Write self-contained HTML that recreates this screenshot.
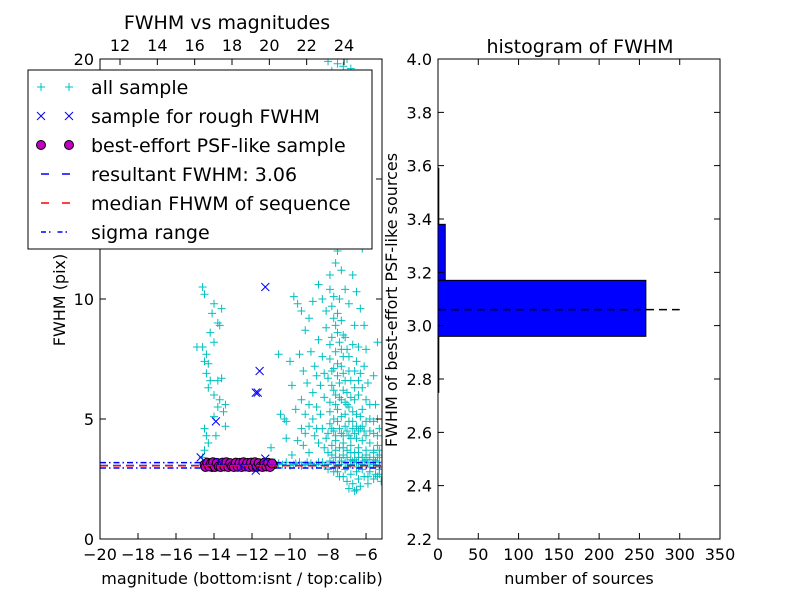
<!DOCTYPE html>
<html><head><meta charset="utf-8"><style>
body{margin:0;background:#fff;width:800px;height:600px;overflow:hidden}
svg{font-family:"DejaVu Sans","Liberation Sans",sans-serif}
</style></head><body>
<svg id="c" width="800" height="600" xmlns="http://www.w3.org/2000/svg">
<rect width="800" height="600" fill="#fff"/>
<g id="left"></g>
<g id="right"></g>
</svg>
<script>
const allSample = [[-14.6,10.5],[-14.5,10.2],[-14.0,9.8],[-13.6,9.6],[-14.1,9.4],[-13.8,9.0],[-13.7,8.9],[-14.2,8.6],[-14.0,8.2],[-14.6,8.0],[-14.9,8.0],[-14.4,7.7],[-14.5,7.4],[-14.3,7.3],[-14.4,6.9],[-14.2,6.6],[-14.3,6.3],[-13.8,6.6],[-13.6,6.7],[-14.0,6.0],[-13.7,5.8],[-13.8,5.5],[-13.5,5.3],[-13.4,5.6],[-14.0,5.1],[-13.4,4.7],[-14.5,4.6],[-14.4,4.3],[-14.3,4.0],[-14.5,3.7],[-13.9,4.3],[-14.6,3.4],
[-11.0,3.8],[-10.6,7.7],[-9.8,10.1],[-10.2,4.2],[-9.9,3.5],[-10.5,5.2],[-10.3,5.0],[-10.8,3.2],[-10.0,7.4],[-10.2,4.9],
[-9.6,9.8],[-9.4,9.5],[-9.2,8.7],[-9.0,9.2],[-8.8,9.9],[-8.5,10.6],[-8.3,10.0],[-8.1,9.5],[-7.9,11.0],[-7.6,11.5],[-7.5,12.0],[-7.3,11.2],[-7.1,10.4],[-6.9,9.8],[-6.7,11.0],[-6.5,10.3],[-6.3,9.6],[-6.1,8.9],
[-9.5,7.7],[-9.3,7.0],[-9.1,6.5],[-8.9,7.8],[-8.7,7.2],[-8.5,8.3],[-8.3,7.6],[-8.1,8.8],[-7.9,8.1],[-7.7,9.2],[-7.5,8.6],[-7.3,7.9],[-7.1,8.4],[-6.9,7.6],[-6.7,8.1],[-6.5,7.4],[-6.3,6.9],[-6.1,7.2],[-5.9,6.5],[-5.6,6.8],
[-9.4,5.8],[-9.2,5.2],[-9.0,4.7],[-8.8,6.1],[-8.6,5.5],[-8.4,6.4],[-8.2,5.9],[-8.0,6.7],[-7.9,5.3],[-7.8,7.0],[-7.7,6.2],[-7.6,5.6],[-7.5,7.3],[-7.4,6.5],[-7.3,5.8],[-7.2,6.9],[-7.1,5.2],[-7.0,6.1],[-6.9,5.5],[-6.8,6.6],[-6.7,4.9],[-6.6,5.8],[-6.5,5.2],[-6.4,6.0],[-6.3,4.6],[-6.2,5.4],[-6.0,4.9],[-5.8,5.6],[-5.6,4.4],[-5.4,5.0],
[-9.6,4.1],[-9.3,3.9],[-9.0,3.6],[-8.7,4.3],[-8.5,4.0],[-8.3,4.6],[-8.1,4.2],[-7.9,4.8],[-7.8,3.9],[-7.7,4.5],[-7.6,4.1],[-7.5,4.9],[-7.4,3.8],[-7.3,4.4],[-7.2,4.0],[-7.1,4.7],[-7.0,3.7],[-6.9,4.3],[-6.8,3.9],[-6.7,4.6],[-6.6,3.6],[-6.5,4.2],[-6.4,3.8],[-6.2,4.1],[-6.0,3.7],[-5.8,4.0],[-5.6,3.6],[-5.4,3.9],[-5.3,3.5],
[-9.8,3.1],[-9.5,3.2],[-9.2,3.1],[-8.9,3.15],[-8.6,3.1],[-8.3,3.2],[-8.0,3.1],[-7.7,3.2],[-7.4,3.1],[-7.1,3.2],[-6.8,3.1],[-6.5,3.2],[-6.2,3.1],[-5.9,3.2],[-5.6,3.1],[-5.3,3.2],
[-7.6,3.4],[-7.2,3.5],[-6.8,3.3],[-6.4,3.4],[-6.0,3.3],[-5.6,3.3],[-5.3,2.9],[-5.5,2.7],[-5.8,2.8],[-6.1,2.6],[-6.4,2.5],[-6.7,2.3],[-6.9,2.1],[-7.2,2.6],[-7.5,2.8],[-6.6,2.0],[-5.4,2.6],[-5.2,2.4],
[-8.4,12.4],[-7.8,12.9],[-7.2,12.6],[-6.2,12.1],[-7.8,19.5],[-7.5,19.8],[-7.2,19.7],[-6.8,19.6],[-8.0,19.9],[-7.0,20.0],[-8.3,13.0],[-5.4,8.2],
[-7.9,10.4],[-7.8,9.7],[-7.7,10.1],[-7.6,8.9],[-7.5,9.4],[-7.4,10.0],[-7.3,9.1],[-7.2,8.5],[-7.8,8.4],[-7.6,7.8],[-7.4,8.2],[-7.2,7.6],[-7.0,7.9],[-7.9,7.5],[-7.7,7.1],[-7.5,6.8],[-7.3,7.2],[-7.1,6.6],[-6.9,7.0],[-7.8,6.4],[-7.6,6.0],[-7.4,5.9],[-7.2,6.2],[-7.0,5.6],[-6.8,5.9],[-6.6,6.3],[-7.9,5.7],[-7.7,5.0],[-7.5,5.4],[-7.3,5.1],[-7.1,5.7],[-6.9,4.9],[-6.7,5.3],[-6.5,4.7],[-6.3,5.1],[-6.1,4.5],[-8.0,4.4],[-7.8,4.6],[-7.6,4.3],[-7.4,4.6],[-7.2,4.3],[-7.0,4.5],[-6.8,4.2],[-6.6,4.4],[-6.4,4.5],[-6.2,4.7],[-6.0,4.3],[-5.8,4.5],[-5.6,4.9],[-5.4,4.3],
[-8.2,3.8],[-8.0,3.6],[-7.8,3.5],[-7.6,3.7],[-7.4,3.4],[-7.2,3.8],[-7.0,3.4],[-6.8,3.6],[-6.6,3.3],[-6.4,3.6],[-6.2,3.4],[-6.0,3.5],[-5.8,3.4],[-5.6,3.7],[-5.4,3.4],[-5.3,3.7],
[-10.6,3.15],[-10.4,3.1],[-10.2,3.2],[-10.0,3.05],[-9.7,3.15],[-9.4,3.05],[-9.1,3.2],[-8.8,3.05],[-8.5,3.2],[-8.2,3.05],[-7.9,3.25],[-7.6,3.0],[-7.3,3.25],[-7.0,3.0],[-6.7,3.25],[-6.4,3.0],[-6.1,3.25],[-5.8,3.0],[-5.5,3.25],[-5.3,3.0],
[-8.0,2.9],[-7.7,2.8],[-7.4,2.6],[-7.1,2.9],[-6.8,2.7],[-6.5,2.8],[-6.2,2.9],[-5.9,2.6],[-5.6,2.5],[-5.3,2.7],[-6.3,2.2],[-7.0,2.4],[-5.9,2.3],[-6.5,2.05],
[-8.6,6.8],[-8.4,5.2],[-8.2,6.9],[-8.6,4.6],[-8.8,5.0],[-9.0,5.6],[-9.2,4.4],[-9.4,4.6],[-9.7,5.4],[-9.9,6.4],[-6.6,7.0],[-6.4,6.6],[-6.2,6.3],[-6.0,5.8],[-5.8,5.0],[-5.5,5.6],[-5.3,4.6],[-6.6,8.9],[-6.4,8.0],[-6.0,7.9]];
const roughSample = [[-11.3,10.5],[-11.6,7.0],[-11.7,6.1],[-11.8,6.1],[-13.9,4.9],[-14.7,3.4],[-11.3,3.35],[-13.7,3.2],[-11.8,2.85],[-12.5,3.0]];
const psfMags = [-14.5,-14.4,-14.3,-14.2,-14.1,-14.0,-13.9,-13.8,-13.7,-13.6,-13.5,-13.4,-13.3,-13.2,-13.1,-13.0,-12.9,-12.8,-12.7,-12.6,-12.5,-12.4,-12.3,-12.2,-12.1,-12.0,-11.9,-11.8,-11.7,-11.6,-11.5,-11.4,-11.3,-11.2,-11.1,-11.0,-10.9,-14.45,-14.35,-14.25,-14.15,-14.05,-13.95,-13.85,-13.75,-13.65,-13.55,-13.45,-13.35,-13.25,-13.15,-13.05,-12.95,-12.85,-12.75,-12.65,-12.55,-12.45,-12.35,-12.25,-12.15,-12.05,-11.95,-11.85,-11.75,-11.65,-11.55,-11.45,-11.35,-11.25,-11.15,-11.05,-10.95];
const psfFwhm = [3.1,3.05,3.15,3.1,3.0,3.1,3.12,3.05,3.1,3.15,3.08,3.1,3.03,3.12,3.1,3.06,3.14,3.1,3.05,3.1,3.12,3.07,3.1,3.15,3.05,3.1,3.12,3.08,3.1,3.04,3.12,3.1,3.06,3.1,3.13,3.08,3.1,3.0,3.18,3.02,3.16,3.2,3.0,3.17,3.02,3.0,3.18,3.02,3.2,3.0,3.16,3.03,3.0,3.18,3.01,3.17,3.0,3.2,3.02,3.17,3.0,3.18,3.01,3.2,3.0,3.16,3.02,3.0,3.18,3.02,3.17,3.0,3.15];
const resultFwhm = 3.06, medianFwhm = 3.05, sigmaLo = 2.96, sigmaHi = 3.18;
const histEdges = [2.75,2.96,3.17,3.38,3.59];
const histCounts = [1,258,9,1];
const xTicksBottom = [-20,-18,-16,-14,-12,-10,-8,-6];
const xTicksTop = [12,14,16,18,20,22,24];
const yTicksLeft = [0,5,10,15,20];
const xTicksHist = [0,50,100,150,200,250,300,350];
const yTicksHist = [2.2,2.4,2.6,2.8,3.0,3.2,3.4,3.6,3.8,4.0];

const NS='http://www.w3.org/2000/svg';
function mk(parent,tag,attrs,text){const e=document.createElementNS(NS,tag);for(const k in attrs)e.setAttribute(k,attrs[k]);if(text!==undefined)e.textContent=text;parent.appendChild(e);return e;}
const L={x0:100,x1:382,y0:539,y1:59,xmin:-20,xmax:-5.16,ymin:0,ymax:20};
const lx=m=>L.x0+(m-L.xmin)/(L.xmax-L.xmin)*(L.x1-L.x0);
const ly=f=>L.y0-(f-L.ymin)/(L.ymax-L.ymin)*(L.y0-L.y1);
const tx=v=>120+(v-12)*(344-120)/12;
const lg=document.getElementById('left');
const clip=mk(lg,'clipPath',{id:'lc'});mk(clip,'rect',{x:L.x0,y:L.y1,width:L.x1-L.x0,height:L.y0-L.y1});
const pg=mk(lg,'g',{'clip-path':'url(#lc)'});


allSample.forEach(p=>{const x=lx(p[0]),y=ly(p[1]);const g=mk(pg,'path',{d:`M${x-4},${y}H${x+4}M${x},${y-4}V${y+4}`,stroke:'#00bfbf','stroke-width':1});

});
function hline(par,y,x0,x1,color,dash,name){const e=mk(par,'line',{x1:x0,x2:x1,y1:y,y2:y,stroke:color,'stroke-width':1.5,'stroke-dasharray':dash});

}
hline(pg,ly(sigmaHi),L.x0,L.x1,'#0000ff','6,3,1.5,3','sigma-high-line');
hline(pg,ly(sigmaLo),L.x0,L.x1,'#0000ff','6,3,1.5,3','sigma-low-line');
psfMags.forEach((m,i)=>{const c=mk(pg,'circle',{cx:lx(m),cy:ly(psfFwhm[i]),r:4.5,fill:'#bf00bf',stroke:'#000','stroke-width':1});

});
roughSample.forEach(p=>{const x=lx(p[0]),y=ly(p[1]);const e=mk(pg,'path',{d:`M${x-4},${y-4}L${x+4},${y+4}M${x-4},${y+4}L${x+4},${y-4}`,stroke:'#0000ff','stroke-width':1});

});
hline(pg,ly(resultFwhm),L.x0,L.x1,'#0000ff','8,5','resultant-fwhm-line');
hline(pg,ly(medianFwhm),L.x0,L.x1,'#ff0000','8,5','median-fwhm-line');
const lf=mk(lg,'rect',{x:L.x0,y:L.y1,width:L.x1-L.x0,height:L.y0-L.y1,fill:'none',stroke:'#000','stroke-width':1});


xTicksBottom.forEach(v=>{const x=lx(v);mk(lg,'path',{d:`M${x},${L.y0}v-6`,stroke:'#000'});const t=mk(lg,'text',{x:x,y:L.y0+21,'font-size':16,'text-anchor':'middle'},'\u2212'+Math.abs(v));

});
xTicksTop.forEach(v=>{const x=tx(v);mk(lg,'path',{d:`M${x},${L.y1}v6`,stroke:'#000'});const t=mk(lg,'text',{x:x,y:L.y1-8,'font-size':16,'text-anchor':'middle'},String(v));

});
yTicksLeft.forEach(v=>{const y=ly(v);mk(lg,'path',{d:`M${L.x0},${y}h6M${L.x1},${y}h-6`,stroke:'#000'});const t=mk(lg,'text',{x:L.x0-6,y:y+6,'font-size':16,'text-anchor':'end'},String(v));

});
let t=mk(lg,'text',{x:242,y:584,'font-size':16,'text-anchor':'middle'},'magnitude (bottom:isnt / top:calib)');


t=mk(lg,'text',{x:0,y:0,'font-size':16,'text-anchor':'middle',transform:'translate(65,300) rotate(-90)'},'FWHM (pix)');


t=mk(lg,'text',{x:227,y:29,'font-size':19,'text-anchor':'middle'},'FWHM vs magnitudes');


const leg=mk(lg,'g',{});


mk(leg,'rect',{x:28,y:70,width:344,height:179,fill:'#fff',stroke:'#000','stroke-width':1});
const labels=['all sample','sample for rough FWHM','best-effort PSF-like sample','resultant FWHM: 3.06','median FHWM of sequence','sigma range'];
labels.forEach((s,i)=>{const y=87+i*29;const e=mk(leg,'g',{});


[41,69].forEach(x=>{
 if(i==0)mk(e,'path',{d:`M${x-4},${y}H${x+4}M${x},${y-4}V${y+4}`,stroke:'#00bfbf'});
 if(i==1)mk(e,'path',{d:`M${x-4},${y-4}L${x+4},${y+4}M${x-4},${y+4}L${x+4},${y-4}`,stroke:'#0000ff'});
 if(i==2)mk(e,'circle',{cx:x,cy:y,r:4.5,fill:'#bf00bf',stroke:'#000'});});
 if(i==3)mk(e,'line',{x1:41,x2:70,y1:y,y2:y,stroke:'#0000ff','stroke-width':1.5,'stroke-dasharray':'8,13'});
 if(i==4)mk(e,'line',{x1:41,x2:70,y1:y,y2:y,stroke:'#ff0000','stroke-width':1.5,'stroke-dasharray':'8,13'});
 if(i==5)mk(e,'line',{x1:41,x2:70,y1:y,y2:y,stroke:'#0000ff','stroke-width':1.5,'stroke-dasharray':'5,3,1.5,7'});
 mk(e,'text',{x:91,y:y+7,'font-size':19},s);});
const R={x0:438,x1:720,y0:539,y1:59,xmin:0,xmax:350,ymin:2.2,ymax:4.0};
const rx=v=>R.x0+(v-R.xmin)/(R.xmax-R.xmin)*(R.x1-R.x0);
const ry=v=>R.y0-(v-R.ymin)/(R.ymax-R.ymin)*(R.y0-R.y1);
const rg=document.getElementById('right');
histCounts.forEach((c,i)=>{const y=ry(histEdges[i+1]),h=ry(histEdges[i])-y;const b=mk(rg,'rect',{x:rx(0),y:y,width:rx(c)-rx(0),height:h,fill:'#0000ff',stroke:'#000','stroke-width':1});

});
hline(rg,ry(resultFwhm),rx(0),rx(300),'#000','8,5','hist-fwhm-line');
const rf=mk(rg,'rect',{x:R.x0,y:R.y1,width:R.x1-R.x0,height:R.y0-R.y1,fill:'none',stroke:'#000'});


xTicksHist.forEach(v=>{const x=rx(v);mk(rg,'path',{d:`M${x},${R.y0}v-6M${x},${R.y1}v6`,stroke:'#000'});const t=mk(rg,'text',{x:x,y:R.y0+21,'font-size':16,'text-anchor':'middle'},String(v));

});
yTicksHist.forEach(v=>{const y=ry(v);mk(rg,'path',{d:`M${R.x0},${y}h6M${R.x1},${y}h-6`,stroke:'#000'});const t=mk(rg,'text',{x:R.x0-6,y:y+6,'font-size':16,'text-anchor':'end'},v.toFixed(1));

});
t=mk(rg,'text',{x:579,y:584,'font-size':16,'text-anchor':'middle'},'number of sources');


t=mk(rg,'text',{x:0,y:0,'font-size':16,'text-anchor':'middle',transform:'translate(397,300) rotate(-90)'},'FWHM of best-effort PSF-like sources');


t=mk(rg,'text',{x:580,y:53,'font-size':19,'text-anchor':'middle'},'histogram of FWHM');


</script>
</body></html>
